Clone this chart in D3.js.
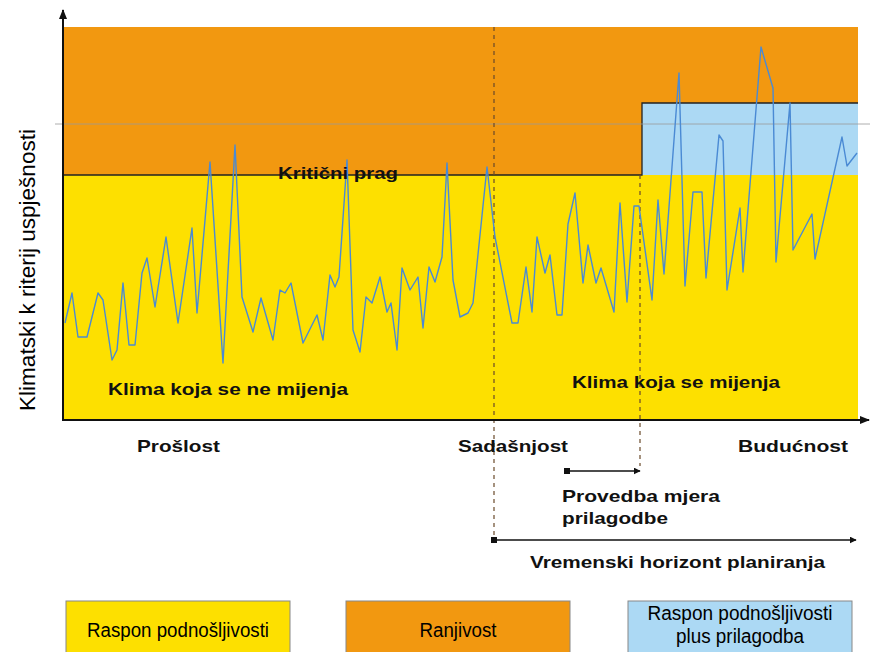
<!DOCTYPE html>
<html>
<head>
<meta charset="utf-8">
<script src="https://cdn.jsdelivr.net/npm/d3@7"></script>
<style>
  body { margin: 0; background: #fff; }
  svg { display: block; }
  .lbl { font-family: "Liberation Sans", Arial, sans-serif; font-weight: bold; fill: #111; }
  .narrow { font-family: "Liberation Sans Narrow", "Liberation Sans", Arial, sans-serif; fill: #000; }
</style>
</head>
<body>
<svg id="chart" width="870" height="652"></svg>
<script>
// time steps (arbitrary units along the time axis) and the climate indicator
const timeSteps = [2, 9, 15, 24, 35, 40, 49, 54, 60, 66, 72, 79, 84, 92, 103, 115, 129, 134, 147, 160,
  172, 179, 190, 198, 210, 217, 222, 228, 240, 254, 260, 267, 272, 276, 284, 290, 297, 303, 309, 317,
  324, 328, 334, 339, 347, 355, 360, 366, 372, 379, 384, 390, 397, 405, 410, 424, 432, 449, 455, 463,
  469, 474, 482, 487, 494, 499, 505, 512, 520, 525, 533, 538, 551, 557, 564, 571, 576, 589, 595, 601,
  616, 622, 630, 639, 643, 656, 660, 664, 677, 680, 698, 710, 713, 727, 730, 749, 752, 779, 784, 794];
const indicator = [97, 127, 83, 83, 127, 120, 60, 70, 137, 75, 75, 147, 162, 113, 183, 97, 192, 107, 258, 57,
  275, 123, 88, 122, 80, 130, 127, 137, 77, 105, 80, 145, 133, 143, 260, 90, 68, 123, 117, 143,
  108, 117, 70, 152, 130, 143, 92, 153, 138, 163, 257, 140, 103, 107, 117, 253, 183, 97, 97, 153,
  108, 183, 147, 165, 105, 105, 196, 227, 137, 175, 137, 152, 108, 217, 118, 214, 214, 120, 220, 146,
  347, 134, 228, 228, 142, 285, 279, 130, 212, 148, 373, 332, 158, 317, 170, 206, 161, 283, 254, 267];

const criticalThreshold = 245;   // kritični prag
const adaptedThreshold = 317;    // prag nakon prilagodbe
const guideLevel = 296;          // tanka siva linija
const timeEnd = 795;
const valueTop = 393;
const presentT = 431;            // sadašnjost
const adaptT = 579;              // početak prilagodbe
const measuresStartT = 504;      // početak provedbe mjera

const legendLabels = [["Raspon podnošljivosti"], ["Ranjivost"], ["Raspon podnošljivosti", "plus prilagodba"]];
const legendWidths = [[182], [77], [185, 128]];
const legendColors = ["#fde000", "#f29810", "#acd9f4"];

const svg = d3.select("#chart");
const x = d3.scaleLinear().domain([0, timeEnd]).range([63, 858]);
const y = d3.scaleLinear().domain([0, valueTop]).range([420, 27]);

const defs = svg.append("defs");
defs.append("marker").attr("id", "arr").attr("viewBox", "0 0 10 10")
  .attr("refX", 9).attr("refY", 5).attr("markerWidth", 7).attr("markerHeight", 7)
  .attr("orient", "auto").attr("markerUnits", "userSpaceOnUse")
  .append("path").attr("d", "M0,0 L10,5 L0,10 Z").attr("fill", "#111");
defs.append("marker").attr("id", "axarr").attr("viewBox", "0 0 10 10")
  .attr("refX", 9).attr("refY", 5).attr("markerWidth", 10).attr("markerHeight", 10)
  .attr("orient", "auto").attr("markerUnits", "userSpaceOnUse")
  .append("path").attr("d", "M0,1 L10,5 L0,9 Z").attr("fill", "#111");

// zone backgrounds
svg.append("rect").attr("x", x(0)).attr("y", y(valueTop))
  .attr("width", x(timeEnd) - x(0)).attr("height", y(criticalThreshold) - y(valueTop))
  .attr("fill", legendColors[1]);
svg.append("rect").attr("x", x(0)).attr("y", y(criticalThreshold))
  .attr("width", x(timeEnd) - x(0)).attr("height", y(0) - y(criticalThreshold))
  .attr("fill", legendColors[0]);
svg.append("rect").attr("x", x(adaptT)).attr("y", y(adaptedThreshold))
  .attr("width", x(timeEnd) - x(adaptT)).attr("height", y(criticalThreshold) - y(adaptedThreshold))
  .attr("fill", legendColors[2]);

// threshold lines
svg.append("path")
  .attr("d", d3.line()([[x(0), y(criticalThreshold)], [x(adaptT), y(criticalThreshold)],
    [x(adaptT), y(adaptedThreshold)], [x(timeEnd), y(adaptedThreshold)]]))
  .attr("fill", "none").attr("stroke", "#222").attr("stroke-width", 1.3);

svg.append("line").attr("x1", 55).attr("x2", 870)
  .attr("y1", y(guideLevel)).attr("y2", y(guideLevel))
  .attr("stroke", "#9a9a9a").attr("stroke-width", 0.8);

// dashed time markers
svg.append("line").attr("x1", x(presentT)).attr("x2", x(presentT))
  .attr("y1", y(valueTop)).attr("y2", 540)
  .attr("stroke", "#6a4a2a").attr("stroke-width", 1.2).attr("stroke-dasharray", "4,4");
svg.append("line").attr("x1", x(adaptT) - 2).attr("x2", x(adaptT) - 2)
  .attr("y1", y(criticalThreshold)).attr("y2", 466)
  .attr("stroke", "#6a4a2a").attr("stroke-width", 1.2).attr("stroke-dasharray", "4,4");

// the climate series
const series = timeSteps.map((t, i) => [t, indicator[i]]);
svg.append("path").datum(series)
  .attr("d", d3.line().x(d => x(d[0])).y(d => y(d[1])))
  .attr("fill", "none").attr("stroke", "#4a8ad4").attr("stroke-width", 1.4)
  .attr("stroke-linejoin", "round");

// axes
svg.append("line").attr("x1", x(0)).attr("x2", x(0)).attr("y1", y(0) + 1).attr("y2", 10)
  .attr("stroke", "#111").attr("stroke-width", 2).attr("marker-end", "url(#axarr)");
svg.append("line").attr("x1", x(0)).attr("x2", 869).attr("y1", y(0)).attr("y2", y(0))
  .attr("stroke", "#111").attr("stroke-width", 2).attr("marker-end", "url(#axarr)");

// arrows under the axis
svg.append("line").attr("x1", x(measuresStartT)).attr("x2", x(adaptT) - 2).attr("y1", 471).attr("y2", 471)
  .attr("stroke", "#111").attr("stroke-width", 1.3).attr("marker-end", "url(#arr)");
svg.append("rect").attr("x", x(measuresStartT) - 3).attr("y", 468).attr("width", 6).attr("height", 6).attr("fill", "#111");
svg.append("line").attr("x1", x(presentT)).attr("x2", 856).attr("y1", 540).attr("y2", 540)
  .attr("stroke", "#111").attr("stroke-width", 1.3).attr("marker-end", "url(#arr)");
svg.append("rect").attr("x", x(presentT) - 3).attr("y", 537).attr("width", 6).attr("height", 6).attr("fill", "#111");

// labels
function label(txt, lx, ly, len, size, anchor) {
  svg.append("text").attr("class", "lbl").attr("x", lx).attr("y", ly)
    .attr("font-size", size).attr("text-anchor", anchor || "start")
    .attr("textLength", len).attr("lengthAdjust", "spacingAndGlyphs").text(txt);
}
label("Kritični prag", 278, 179, 120, 17);
label("Klima koja se ne mijenja", 108, 395, 240, 17);
label("Klima koja se mijenja", 572, 388, 208, 17);
label("Prošlost", 137, 452, 83, 17);
label("Sadašnjost", 458, 452, 110, 17);
label("Budućnost", 738, 452, 110, 17);
label("Provedba mjera", 562, 502, 158, 17);
label("prilagodbe", 562, 524, 106, 17);
label("Vremenski horizont planiranja", 530, 568, 295, 17);

svg.append("text").attr("class", "narrow")
  .attr("transform", "translate(35,270) rotate(-90)")
  .attr("text-anchor", "middle").attr("font-size", 22)
  .attr("textLength", 282).attr("lengthAdjust", "spacingAndGlyphs")
  .text("Klimatski k riterij uspješnosti");

// legend boxes
const legendX = [66, 346, 628];
const legendW = 224;
legendLabels.forEach((lines, i) => {
  svg.append("rect").attr("x", legendX[i]).attr("y", 601).attr("width", legendW).attr("height", 60)
    .attr("fill", legendColors[i]).attr("stroke", "#888").attr("stroke-width", 1);
  lines.forEach((ln, j) => {
    svg.append("text").attr("class", "narrow").attr("font-size", 20)
      .attr("text-anchor", "middle")
      .attr("x", legendX[i] + legendW / 2)
      .attr("y", lines.length === 1 ? 637 : 620 + j * 23)
      .attr("textLength", legendWidths[i][j]).attr("lengthAdjust", "spacingAndGlyphs")
      .text(ln);
  });
});
</script>
</body>
</html>
